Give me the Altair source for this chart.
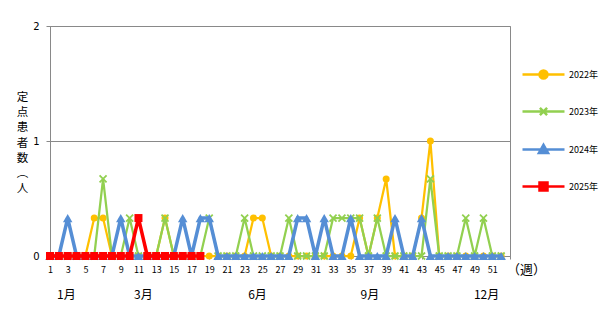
import altair as alt
import pandas as pd

# ---------------- data ----------------
weeks = list(range(1, 53))
series_names = ["2022年", "2023年", "2024年", "2025年"]

v2022 = [0, 0, 0, 0, 0, 0.33, 0.33, 0, 0, 0,
         0, 0, 0, 0.33, 0, 0, 0, 0, 0, 0,
         0, 0, 0, 0.33, 0.33, 0, 0, 0, 0, 0,
         0, 0, 0, 0, 0, 0.33, 0, 0.33, 0.67, 0,
         0, 0, 0.33, 1.0, 0, 0, 0, 0, 0, 0,
         0, 0]
v2023 = [0, 0, 0, 0, 0, 0, 0.67, 0, 0, 0.33,
         0, 0, 0, 0.33, 0, 0, 0, 0, 0.33, 0,
         0, 0, 0.33, 0, 0, 0, 0, 0.33, 0, 0,
         0, 0, 0.33, 0.33, 0.33, 0.33, 0, 0.33, 0, 0,
         0, 0, 0, 0.67, 0, 0, 0, 0.33, 0, 0.33,
         0, 0]
v2024 = [0, 0, 0.33, 0, 0, 0, 0, 0, 0.33, 0,
         0, 0, 0, 0, 0, 0.33, 0, 0.33, 0.33, 0,
         0, 0, 0, 0, 0, 0, 0, 0, 0.33, 0.33,
         0, 0.33, 0, 0, 0.33, 0, 0, 0, 0, 0.33,
         0, 0, 0.33, 0, 0, 0, 0, 0, 0, 0,
         0, 0]
v2025 = [0, 0, 0, 0, 0, 0, 0, 0, 0, 0,
         0.33, 0, 0, 0, 0, 0, 0, 0] + [None] * 34

y_ticks = [0, 1, 2]
month_names = ["1月", "3月", "6月", "9月", "12月"]
month_pos = [2.8, 11.5, 24.4, 37.1, 50.3]

y_title = ["定", "点", "患", "者", "数", "︵", "人"]

# ---------------- styles ----------------
FONT = "Noto Sans CJK JP"
GRAY = "#898989"
colors = ["#FFC000", "#92D050", "#558ED5", "#FF0000"]
line_w = [2.25, 2.25, 3.5, 3.5]
X_PATH = "M-1,-1L1,1M-1,1L1,-1"
pt_shape = ["circle", X_PATH, "triangle-up", "square"]
pt_size = [49, 49, 90, 64]
pt_filled = [True, False, True, True]
legend_paths = [
    "M-5.25,0H5.25M-1,0A1,1,0,1,1,1,0A1,1,0,1,1,-1,0Z",
    "M-5.25,0H5.25M-0.9,-0.9L0.9,0.9M-0.9,0.9L0.9,-0.9",
    "M-5.25,0H5.25M0,-1.15L1.15,0.9L-1.15,0.9Z",
    "M-5.25,0H5.25M-1,-1H1V1H-1Z",
]

rows = []
for name, vals in zip(series_names, [v2022, v2023, v2024, v2025]):
    for w, v in zip(weeks, vals):
        rows.append({"week": w, "series": name, "value": v})
df = pd.DataFrame(rows)

x_scale = alt.Scale(domain=[1, 53], nice=False, zero=False)
y_scale = alt.Scale(domain=[0, 2], nice=False)

week_axis = alt.Axis(
    orient="bottom",
    values=weeks + [53],
    labelExpr="(datum.value % 2 == 1 && datum.value < 53) ? datum.label : ''",
    title="（週）", titleX=476, titleY=13, titleAngle=0, titleAlign="center",
    titleBaseline="middle", titleFont=FONT, titleFontSize=13,
    titleFontWeight="normal", titleColor="#000000",
    labelFont=FONT, labelFontSize=9, labelColor="#000000",
    labelPadding=6, tickSize=3, tickColor=GRAY, domainColor=GRAY,
    grid=False, labelOverlap=False, labelFlush=False,
)
y_axis = alt.Axis(
    values=y_ticks, labelExpr="'' + round(datum.value)",
    title=y_title, titleAngle=0, titleX=-28, titleY=65.5, titleAlign="center",
    titleBaseline="top", titleLineHeight=15.2, titleFont=FONT, titleFontSize=11.5,
    titleFontWeight="normal", titleColor="#000000",
    labelFont="DejaVu Sans", labelFontSize=10, labelColor="#000000",
    labelPadding=7, tickSize=4, tickColor=GRAY, domainColor=GRAY,
    grid=True, gridColor=GRAY, labelOverlap=False, labelFlush=False,
)
month_axis = alt.Axis(
    orient="bottom",
    values=month_pos,
    labelExpr="[" + ",".join("'%s'" % m for m in month_names) + "][indexof(["
    + ",".join(str(p) for p in month_pos) + "], datum.value)]",
    title=None, labelFont=FONT, labelFontSize=12, labelColor="#000000",
    labelPadding=33, ticks=False, tickSize=0, domain=False, grid=False,
    labelOverlap=False, labelFlush=False,
)

layers = []
first = True
for i, name in enumerate(series_names):
    sub = alt.Chart(df).transform_filter(
        alt.datum.series == name).transform_filter("isValid(datum.value)")
    if first:
        xl = alt.X("week:Q", scale=x_scale, axis=week_axis)
        yl = alt.Y("value:Q", scale=y_scale, axis=y_axis)
    else:
        xl = alt.X("week:Q", scale=x_scale, axis=None)
        yl = alt.Y("value:Q", scale=y_scale)
    first = False
    line = sub.mark_line(color=colors[i], strokeWidth=line_w[i]).encode(x=xl, y=yl)
    pt = sub.mark_point(
        shape=pt_shape[i], size=pt_size[i], filled=pt_filled[i],
        color=colors[i], opacity=1,
        strokeWidth=1.8 if not pt_filled[i] else 0,
    ).encode(
        x=alt.X("week:Q", scale=x_scale, axis=None),
        y=alt.Y("value:Q", scale=y_scale),
    )
    layers += [line, pt]

leg = alt.Legend(
    title=None, orient="none", legendX=488, legendY=43, padding=0, offset=0,
    labelFont=FONT, labelFontSize=9, labelColor="#000000",
    symbolSize=64, symbolStrokeWidth=2.5, labelOffset=20, rowPadding=18,
    direction="vertical",
)
legend_layer = alt.Chart(df).transform_filter("false").mark_point(
    filled=True, strokeWidth=2.5, opacity=1
).encode(
    x=alt.X("week:Q", scale=x_scale, axis=month_axis),
    y=alt.Y("value:Q", scale=y_scale),
    fill=alt.Fill("series:N", scale=alt.Scale(domain=series_names, range=colors), legend=leg),
    stroke=alt.Stroke("series:N", scale=alt.Scale(domain=series_names, range=colors), legend=leg),
    shape=alt.Shape("series:N", scale=alt.Scale(domain=series_names, range=legend_paths), legend=leg),
)
layers.append(legend_layer)

chart = alt.layer(*layers).resolve_axis(x="independent").properties(
    width=460, height=230,
    autosize=alt.AutoSizeParams(type="none"),
    padding={"left": 50, "top": 26, "right": 98, "bottom": 56},
    background="#FFFFFF",
).configure_view(stroke=GRAY, strokeWidth=1)

chart.save("out.html", embed_options={"renderer": "svg", "actions": False})
